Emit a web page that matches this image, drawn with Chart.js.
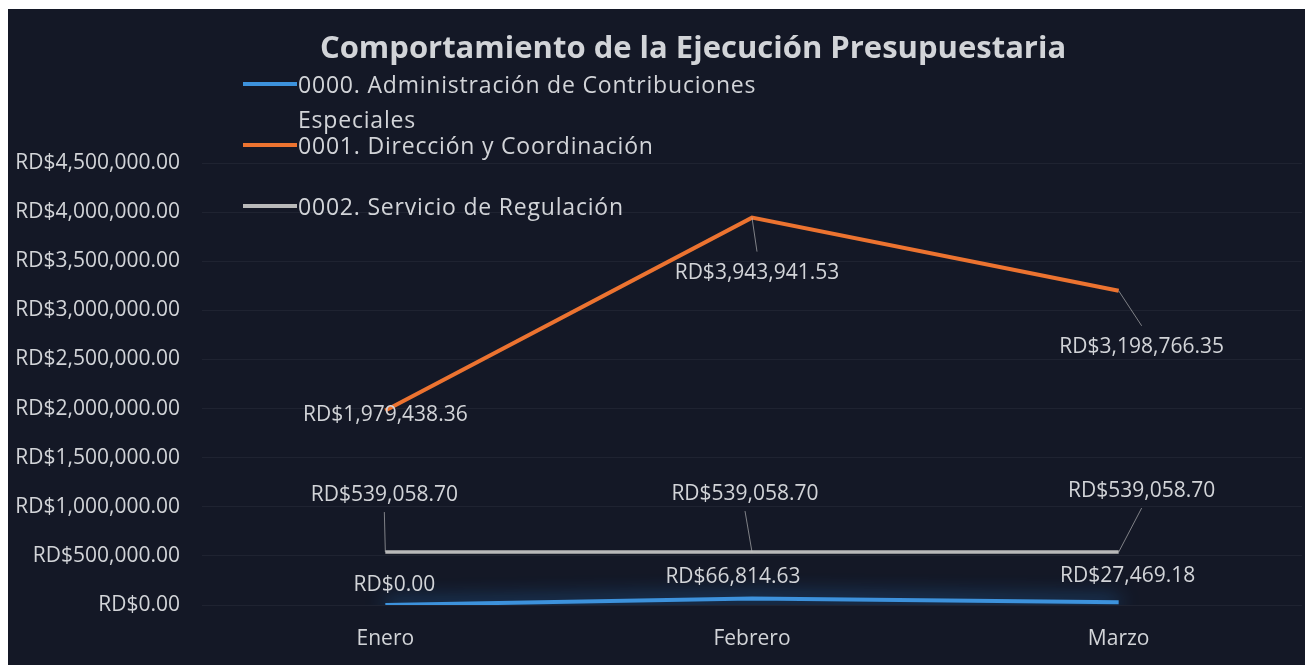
<!DOCTYPE html>
<html>
<head>
<meta charset="utf-8">
<script src="https://cdn.jsdelivr.net/npm/chart.js@4"></script>
<style>
  html, body { margin: 0; padding: 0; background: #ffffff; }
  #wrap { position: absolute; left: 8px; top: 9px; width: 1297px; height: 656px; background: #141826; }
</style>
</head>
<body>
<div id="wrap"><canvas id="chart"></canvas></div>
<script>
// chart data
const months = ['Enero', 'Febrero', 'Marzo'];
const seriesNames = [
  '0000. Administración de Contribuciones Especiales',
  '0001. Dirección y Coordinación',
  '0002. Servicio de Regulación'
];
const adminValues = [0.00, 66814.63, 27469.18];
const direccionValues = [1979438.36, 3943941.53, 3198766.35];
const regulacionValues = [539058.70, 539058.70, 539058.70];
const yTicks = { min: 0, max: 4500000, step: 500000 };
const chartTitle = 'Comportamiento de la Ejecución Presupuestaria';

// where each value label sits relative to its point (dx, dy)
const adminLabelOffsets = [[9, -20], [-19, -21], [9, -26]];
const direccionLabelOffsets = [[0, 4], [5, 55], [23, 56]];
const regulacionLabelOffsets = [[-1, -57], [-7, -58], [23, -61]];

const FONT = '"Open Sans", Lato, sans-serif';
const TEXT = '#d2d4d8';

const money = v => 'RD$' + v.toLocaleString('en-US', { minimumFractionDigits: 2, maximumFractionDigits: 2 });

// glow under the blue line
const glowPlugin = {
  id: 'glow',
  beforeDatasetDraw(chart, args) {
    const ds = chart.data.datasets[args.index];
    if (ds.glow) {
      chart.ctx.save();
      chart.ctx.shadowColor = ds.glow;
      chart.ctx.shadowBlur = 20;
    }
  },
  afterDatasetDraw(chart, args) {
    if (chart.data.datasets[args.index].glow) chart.ctx.restore();
  }
};

// value labels with leader lines
const labelPlugin = {
  id: 'valueLabels',
  afterDatasetsDraw(chart) {
    const ctx = chart.ctx;
    ctx.save();
    ctx.font = '21px ' + FONT;
    ctx.textAlign = 'center';
    ctx.textBaseline = 'middle';
    chart.data.datasets.forEach((ds, i) => {
      chart.getDatasetMeta(i).data.forEach((pt, j) => {
        const [dx, dy] = ds.labelOffsets[j];
        const lx = pt.x + dx, ly = pt.y + dy;
        if (Math.abs(dy) > 35) {
          const ey = dy > 0 ? ly - 21 : ly + 17;
          ctx.strokeStyle = 'rgba(200,200,200,0.6)';
          ctx.lineWidth = 1;
          ctx.beginPath();
          ctx.moveTo(pt.x, pt.y);
          ctx.lineTo(lx, ey);
          ctx.stroke();
        }
        ctx.fillStyle = TEXT;
        ctx.fillText(money(ds.data[j]), lx, ly);
      });
    });
    ctx.restore();
  }
};

// title and overlaid legend
const headerPlugin = {
  id: 'header',
  afterDraw(chart) {
    const ctx = chart.ctx;
    ctx.save();
    ctx.fillStyle = TEXT;
    ctx.textAlign = 'center';
    ctx.textBaseline = 'middle';
    ctx.font = 'bold 31px ' + FONT;
    ctx.fillText(chartTitle, 685, 40);

    ctx.textAlign = 'left';
    ctx.font = '23px ' + FONT;
    ctx.letterSpacing = '0.8px';
    const rows = [
      { ds: 0, y: 75, lines: ['0000. Administración de Contribuciones', 'Especiales'] },
      { ds: 1, y: 136, lines: ['0001. Dirección y Coordinación'] },
      { ds: 2, y: 197, lines: ['0002. Servicio de Regulación'] }
    ];
    rows.forEach(r => {
      const ds = chart.data.datasets[r.ds];
      ctx.strokeStyle = ds.borderColor;
      ctx.lineWidth = 4;
      ctx.beginPath();
      ctx.moveTo(235, r.y);
      ctx.lineTo(289, r.y);
      ctx.stroke();
      ctx.fillStyle = TEXT;
      r.lines.forEach((t, k) => ctx.fillText(t, 290, r.y + 2 + k * 35));
    });
    ctx.restore();
  }
};

new Chart(document.getElementById('chart'), {
  type: 'line',
  data: {
    labels: months,
    datasets: [
      {
        label: seriesNames[0],
        data: adminValues,
        borderColor: '#3d92dc',
        borderWidth: 4,
        glow: 'rgba(40,140,230,1)',
        labelOffsets: adminLabelOffsets
      },
      {
        label: seriesNames[1],
        data: direccionValues,
        borderColor: '#ec7330',
        borderWidth: 4,
        labelOffsets: direccionLabelOffsets
      },
      {
        label: seriesNames[2],
        data: regulacionValues,
        borderColor: '#b9b9b9',
        borderWidth: 3.5,
        labelOffsets: regulacionLabelOffsets
      }
    ]
  },
  options: {
    responsive: true,
    maintainAspectRatio: false,
    animation: false,
    layout: { padding: { top: 154, right: 3, left: 0, bottom: 0 } },
    elements: { point: { radius: 0 }, line: { tension: 0 } },
    plugins: {
      legend: { display: false },
      title: { display: false },
      tooltip: { enabled: false }
    },
    scales: {
      x: {
        offset: true,
        grid: { display: false },
        border: { display: false },
        ticks: { color: TEXT, font: { family: FONT, size: 21 }, padding: 13 },
        afterFit(scale) { scale.height = 60; }
      },
      y: {
        min: yTicks.min,
        max: yTicks.max,
        grid: { color: 'rgba(255,255,255,0.05)', drawTicks: false },
        border: { display: false },
        ticks: {
          stepSize: yTicks.step,
          color: TEXT,
          font: { family: FONT, size: 21 },
          padding: 22,
          callback: v => money(v)
        },
        afterFit(scale) { scale.width = 194; }
      }
    }
  },
  plugins: [glowPlugin, labelPlugin, headerPlugin]
});
</script>
</body>
</html>
